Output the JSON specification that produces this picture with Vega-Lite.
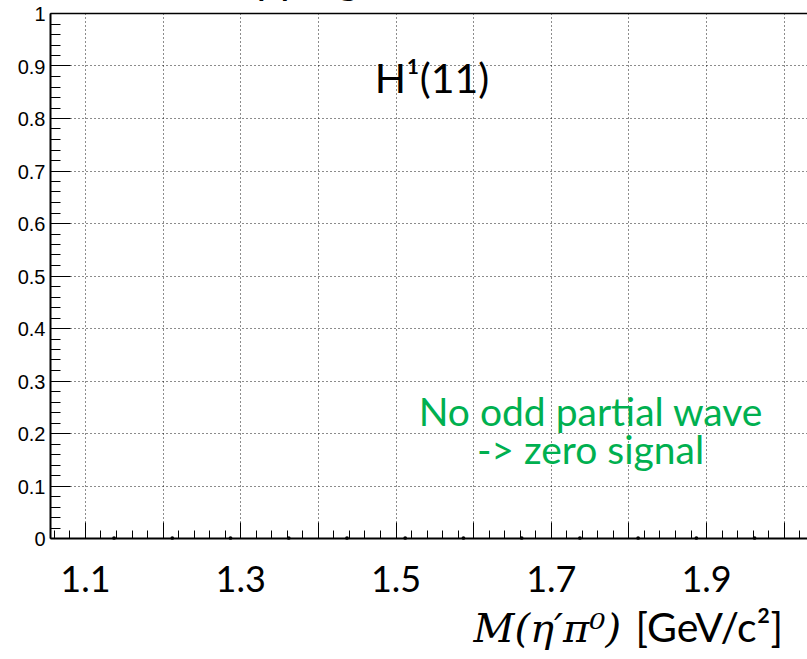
{
  "$schema": "https://vega.github.io/schema/vega-lite/v6.json",
  "autosize": {"type": "none"},
  "padding": {"left": 50, "top": 13, "right": 0, "bottom": 121},
  "width": 757,
  "height": 525,
  "background": "white",
  "config": {
    "view": {"stroke": null},
    "axis": {"domainColor": "black", "tickColor": "black", "labelColor": "black", "gridColor": "black"}
  },
  "data": {"values": [
    {"m": 1.1375, "v": 0}, {"m": 1.2125, "v": 0}, {"m": 1.2875, "v": 0}, {"m": 1.3625, "v": 0},
    {"m": 1.4375, "v": 0}, {"m": 1.5125, "v": 0}, {"m": 1.5875, "v": 0}, {"m": 1.6625, "v": 0},
    {"m": 1.7375, "v": 0}, {"m": 1.8125, "v": 0}, {"m": 1.8875, "v": 0}, {"m": 1.9625, "v": 0}
  ]},
  "resolve": {"axis": {"x": "independent", "y": "independent"}},
  "layer": [
    {
      "mark": {"type": "point", "filled": true, "size": 14, "color": "black", "opacity": 1, "clip": false},
      "encoding": {
        "x": {"field": "m", "type": "quantitative", "scale": {"domain": [1.055, 2.03], "nice": false, "zero": false},
          "axis": {"orient": "bottom", "title": null, "values": [1.1, 1.2, 1.3, 1.4, 1.5, 1.6, 1.7, 1.8, 1.9, 2.0],
            "labels": false, "tickSize": -16, "tickWidth": 1, "domainWidth": 2, "grid": true, "gridDash": [1, 3], "gridWidth": 1, "gridOpacity": 0.9}},
        "y": {"field": "v", "type": "quantitative", "scale": {"domain": [0, 1], "nice": false, "zero": false},
          "axis": {"orient": "left", "title": null, "values": [0, 0.1, 0.2, 0.3, 0.4, 0.5, 0.6, 0.7, 0.8, 0.9, 1.0],
            "labels": false, "tickSize": -20, "tickWidth": 1, "domainWidth": 2, "grid": true, "gridDash": [1, 3], "gridWidth": 1, "gridOpacity": 0.9}}
      }
    },
    {
      "mark": {"type": "point", "opacity": 0},
      "encoding": {
        "x": {"field": "m", "type": "quantitative", "scale": {"domain": [1.055, 2.03], "nice": false, "zero": false},
          "axis": {"orient": "bottom", "title": null, "labels": false, "domain": false, "grid": false, "tickSize": -8, "tickWidth": 1,
            "values": [1.06,1.08,1.12,1.14,1.16,1.18,1.22,1.24,1.26,1.28,1.32,1.34,1.36,1.38,1.42,1.44,1.46,1.48,1.52,1.54,1.56,1.58,1.62,1.64,1.66,1.68,1.72,1.74,1.76,1.78,1.82,1.84,1.86,1.88,1.92,1.94,1.96,1.98,2.02]}},
        "y": {"field": "v", "type": "quantitative", "scale": {"domain": [0, 1], "nice": false, "zero": false},
          "axis": {"orient": "left", "title": null, "labels": false, "domain": false, "grid": false, "tickSize": -10, "tickWidth": 1,
            "values": [0.02,0.04,0.06,0.08,0.12,0.14,0.16,0.18,0.22,0.24,0.26,0.28,0.32,0.34,0.36,0.38,0.42,0.44,0.46,0.48,0.52,0.54,0.56,0.58,0.62,0.64,0.66,0.68,0.72,0.74,0.76,0.78,0.82,0.84,0.86,0.88,0.92,0.94,0.96,0.98]}}
      }
    },
    {
      "mark": {"type": "point", "opacity": 0},
      "encoding": {
        "x": {"field": "m", "type": "quantitative", "scale": {"domain": [1.055, 2.03], "nice": false, "zero": false},
          "axis": {"orient": "bottom", "title": null, "ticks": false, "domain": false, "grid": false,
            "values": [1.1, 1.3, 1.5, 1.7, 1.9], "format": ".1f", "labelFont": "Lato", "labelFontSize": 36, "labelPadding": 25, "labelFlush": false}},
        "y": {"field": "v", "type": "quantitative", "scale": {"domain": [0, 1], "nice": false, "zero": false},
          "axis": {"orient": "left", "title": null, "ticks": false, "domain": false, "grid": false,
            "values": [0, 0.1, 0.2, 0.3, 0.4, 0.5, 0.6, 0.7, 0.8, 0.9, 1.0], "labelExpr": "datum.value == 0 ? '0' : datum.value == 1 ? '1' : format(datum.value, '.1f')",
            "labelFont": "Liberation Sans", "labelFontSize": 20, "labelPadding": 5, "labelOffset": 1.5, "labelBaseline": "middle", "labelFlush": false}}
      }
    },
    {
      "mark": {"type": "point", "opacity": 0},
      "encoding": {
        "x": {"field": "m", "type": "quantitative", "scale": {"domain": [1.055, 2.03], "nice": false, "zero": false},
          "axis": {"orient": "top", "title": null, "ticks": false, "labels": false, "grid": false, "domainWidth": 1.5}},
        "y": {"field": "v", "type": "quantitative", "scale": {"domain": [0, 1], "nice": false, "zero": false}, "axis": null}
      }
    },
    {
      "data": {"values": [{"t": "H¹(11)"}]},
      "mark": {"type": "text", "font": "Lato", "fontSize": 41, "color": "black", "align": "center", "baseline": "alphabetic", "clip": false},
      "encoding": {
        "x": {"datum": 1.547, "type": "quantitative", "scale": {"domain": [1.055, 2.03], "nice": false, "zero": false}, "axis": null},
        "y": {"datum": 0.8476, "type": "quantitative", "scale": {"domain": [0, 1], "nice": false, "zero": false}, "axis": null},
        "text": {"field": "t"}
      }
    },
    {
      "data": {"values": [{"t": "No odd partial wave\n-> zero signal"}]},
      "mark": {"type": "text", "font": "Lato", "fontSize": 39, "lineBreak": "\n", "lineHeight": 38.5, "color": "#00B050", "align": "center", "baseline": "alphabetic", "clip": false},
      "encoding": {
        "x": {"datum": 1.7512, "type": "quantitative", "scale": {"domain": [1.055, 2.03], "nice": false, "zero": false}, "axis": null},
        "y": {"datum": 0.2139, "type": "quantitative", "scale": {"domain": [0, 1], "nice": false, "zero": false}, "axis": null},
        "text": {"field": "t"}
      }
    },
    {
      "data": {"values": [{"t": "M(η′π⁰)"}]},
      "mark": {"type": "text", "font": "DejaVu Serif", "fontStyle": "italic", "fontSize": 40, "color": "black", "align": "right", "baseline": "alphabetic", "clip": false},
      "encoding": {
        "x": {"datum": 1.7905, "type": "quantitative", "scale": {"domain": [1.055, 2.03], "nice": false, "zero": false}, "axis": null},
        "y": {"datum": -0.198, "type": "quantitative", "scale": {"domain": [0, 1], "nice": false, "zero": false}, "axis": null},
        "text": {"field": "t"}
      }
    },
    {
      "data": {"values": [{"t": "[GeV/c²]"}]},
      "mark": {"type": "text", "font": "Lato", "fontSize": 41, "color": "black", "align": "right", "baseline": "alphabetic", "clip": false},
      "encoding": {
        "x": {"datum": 1.999, "type": "quantitative", "scale": {"domain": [1.055, 2.03], "nice": false, "zero": false}, "axis": null},
        "y": {"datum": -0.198, "type": "quantitative", "scale": {"domain": [0, 1], "nice": false, "zero": false}, "axis": null},
        "text": {"field": "t"}
      }
    },
    {
      "data": {"values": [{"t": "Mapping"}]},
      "mark": {"type": "text", "font": "Lato", "fontSize": 42, "color": "black", "align": "right", "baseline": "alphabetic", "clip": false},
      "encoding": {
        "x": {"datum": 1.453, "type": "quantitative", "scale": {"domain": [1.055, 2.03], "nice": false, "zero": false}, "axis": null},
        "y": {"datum": 1.0362, "type": "quantitative", "scale": {"domain": [0, 1], "nice": false, "zero": false}, "axis": null},
        "text": {"field": "t"}
      }
    }
  ]
}
